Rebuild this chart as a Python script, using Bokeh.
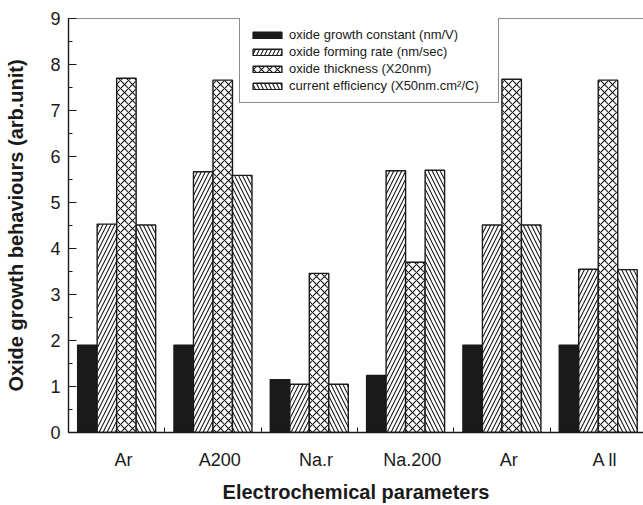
from bokeh.plotting import figure
from bokeh.models import (ColumnDataSource, Range1d, FixedTicker, SingleIntervalTicker,
                          Legend, LegendItem, Span)
from bokeh.embed import file_html
from bokeh.resources import INLINE

categories = ["Ar", "A200", "Na.r", "Na.200", "Ar", "A ll"]
growth_constant = [1.90, 1.90, 1.15, 1.24, 1.90, 1.90]
forming_rate = [4.53, 5.67, 1.05, 5.69, 4.51, 3.55]
thickness = [7.70, 7.66, 3.46, 3.70, 7.68, 7.66]
efficiency = [4.51, 5.59, 1.05, 5.70, 4.51, 3.54]

series_labels = ["oxide growth constant (nm/V)",
                 "oxide forming rate (nm/sec)",
                 "oxide thickness (X20nm)",
                 "current efficiency (X50nm.cm\u00b2/C)"]

FONT = "Liberation Sans"
INK = "#1a1a1a"

p = figure(width=643, height=505, output_backend="svg", toolbar_location=None,
           x_range=Range1d(-0.5, 5.47), y_range=Range1d(0, 9),
           min_border_left=68, min_border_right=0, min_border_top=18, min_border_bottom=73)
p.outline_line_color = None
p.xgrid.visible = False
p.ygrid.visible = False
p.background_fill_color = "white"
p.border_fill_color = "white"

idx = list(range(len(categories)))
bw = 0.2025
offsets = [-1.5 * bw, -0.5 * bw, 0.5 * bw, 1.5 * bw]
series = [growth_constant, forming_rate, thickness, efficiency]
styles = [dict(fill_color=INK, hatch_pattern=None),
          dict(fill_color="white", hatch_pattern="/"),
          dict(fill_color="white", hatch_pattern="x"),
          dict(fill_color="white", hatch_pattern="\\")]

items = []
for vals, off, st, lab in zip(series, offsets, styles, series_labels):
    src = ColumnDataSource(dict(x=[i + off for i in idx], top=vals))
    kw = dict(x="x", top="top", width=bw, bottom=0, source=src,
              line_color=INK, line_width=1.4, fill_color=st["fill_color"])
    if st["hatch_pattern"]:
        kw.update(hatch_pattern=st["hatch_pattern"], hatch_color=INK,
                  hatch_scale=8, hatch_weight=1.1)
    r = p.vbar(**kw)
    items.append(LegendItem(label=lab, renderers=[r]))

legend = Legend(items=items, location=(171, 329), orientation="vertical",
                border_line_color=INK, border_line_width=1,
                background_fill_color="white", background_fill_alpha=1,
                label_text_font=FONT, label_text_font_size="13px", label_text_color=INK,
                glyph_width=36, glyph_height=8, label_height=14, label_width=200,
                label_standoff=4, spacing=2, padding=9, margin=0)
p.add_layout(legend, "center")

# top frame line
p.add_layout(Span(location=9, dimension="width", line_color=INK, line_width=1.2))

# axes
xa = p.xaxis[0]
xa.ticker = FixedTicker(ticks=[i + 0.07 for i in idx], minor_ticks=[0.5, 1.5, 2.5, 3.5, 4.5])
xa.major_label_overrides = {i + 0.07: c for i, c in zip(idx, categories)}
xa.major_tick_line_color = None
xa.minor_tick_in = 5
xa.minor_tick_out = 0
xa.minor_tick_line_color = INK
xa.major_label_standoff = 11
xa.axis_line_color = INK
xa.axis_line_width = 1.4
xa.major_label_text_font = FONT
xa.major_label_text_font_size = "18px"
xa.major_label_text_color = INK
xa.axis_label = "Electrochemical parameters"
xa.axis_label_text_font = FONT
xa.axis_label_text_font_style = "bold"
xa.axis_label_text_font_size = "20px"
xa.axis_label_text_color = INK
xa.axis_label_standoff = 8

ya = p.yaxis[0]
ya.ticker = SingleIntervalTicker(interval=1, num_minor_ticks=2)
ya.major_tick_in = 8
ya.major_tick_out = 0
ya.minor_tick_in = 4
ya.minor_tick_out = 0
ya.major_tick_line_color = INK
ya.minor_tick_line_color = INK
ya.axis_line_color = INK
ya.axis_line_width = 1.4
ya.major_label_standoff = 8
ya.major_label_text_font = FONT
ya.major_label_text_font_size = "18px"
ya.major_label_text_color = INK
ya.axis_label = "Oxide growth behaviours (arb.unit)"
ya.axis_label_text_font = FONT
ya.axis_label_text_font_style = "bold"
ya.axis_label_text_font_size = "20px"
ya.axis_label_text_color = INK
ya.axis_label_standoff = 20

open("out.html", "w").write(file_html(p, INLINE))
